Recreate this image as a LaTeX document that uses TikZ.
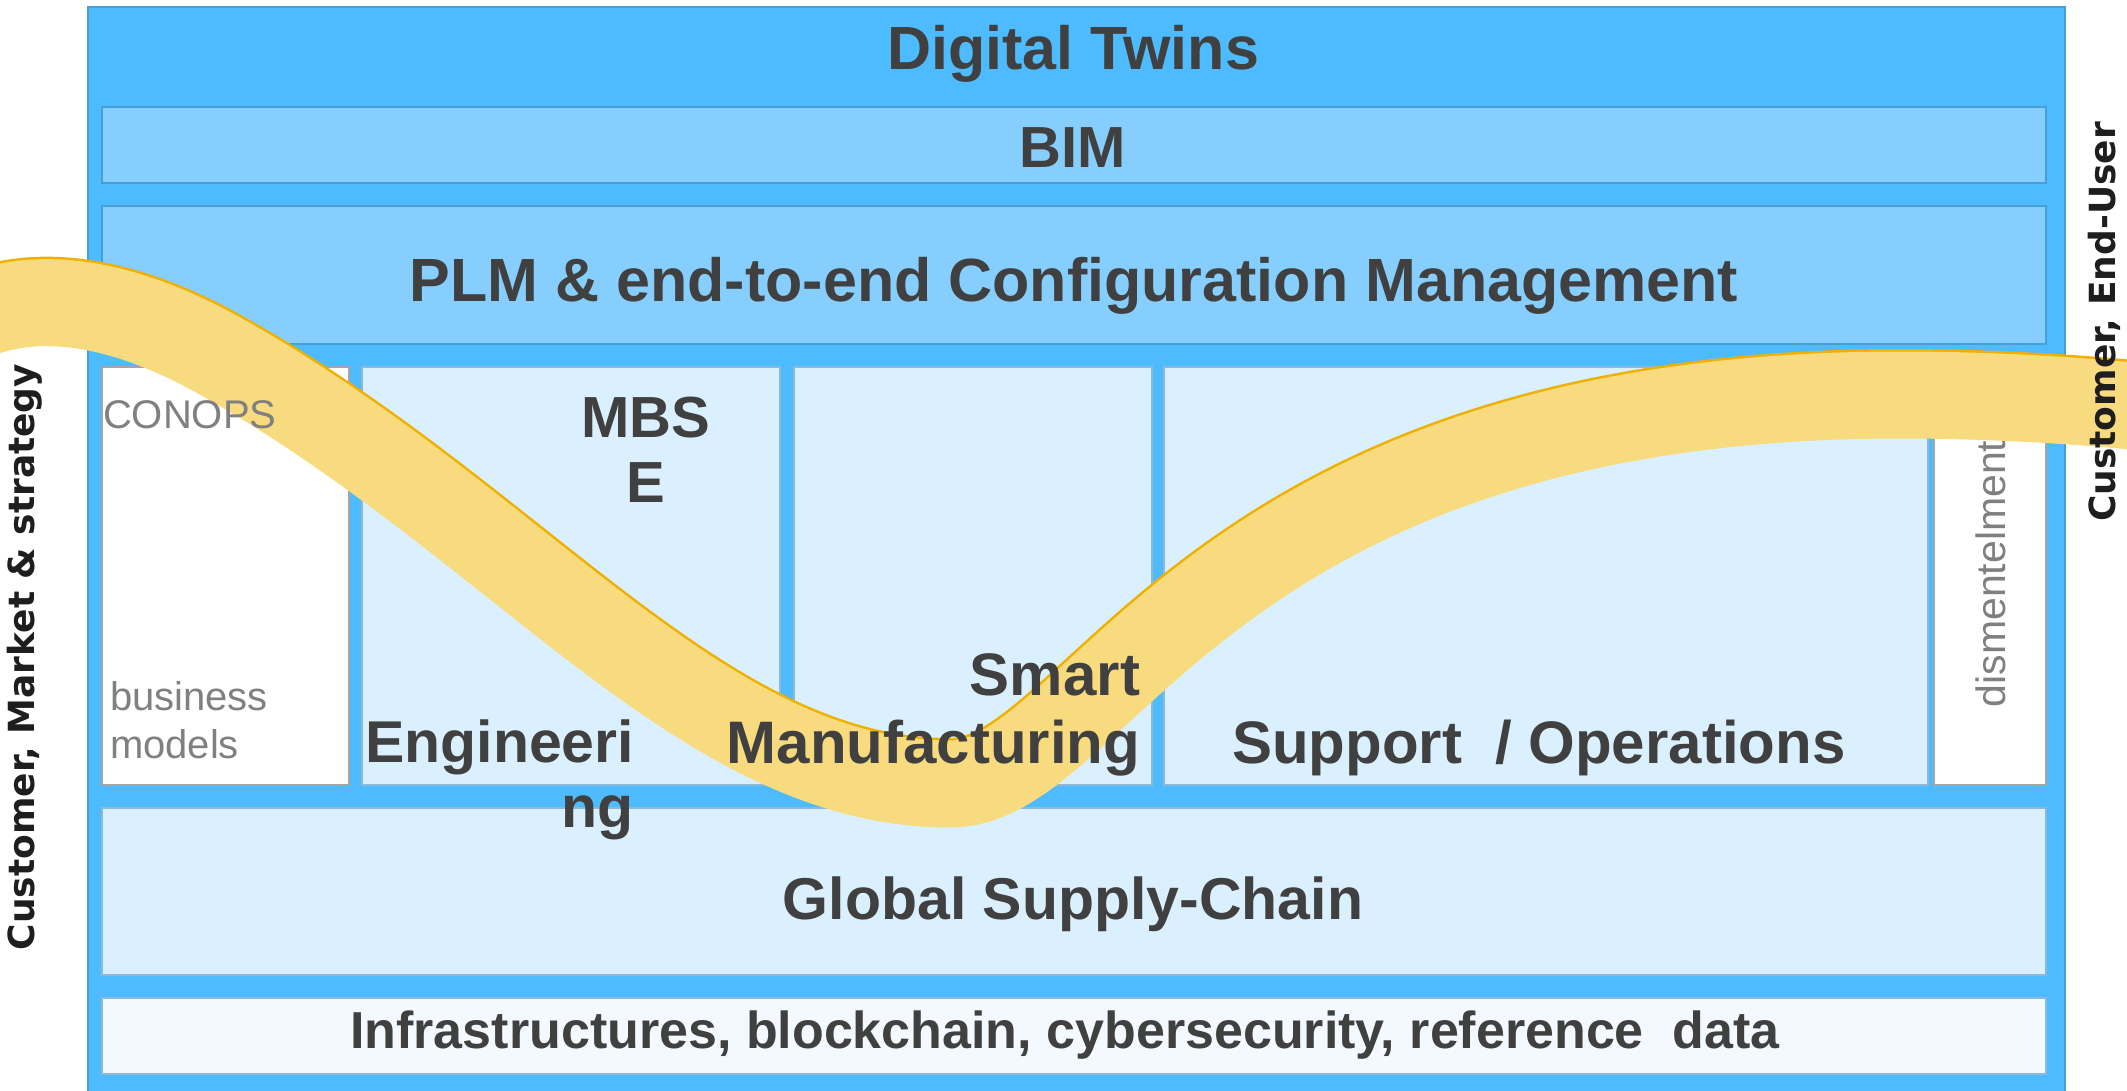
\documentclass[tikz,border=0pt]{standalone}
\usepackage{fontspec}
\setmainfont{Liberation Sans}
\newfontfamily\sidefont{DejaVu Sans}
\newcommand\setfs[1]{\fontsize{#1}{#1}\selectfont}
\definecolor{outblue}{RGB}{77,187,254}
\definecolor{midblue}{RGB}{133,206,253}
\definecolor{lightblue}{RGB}{219,240,254}
\definecolor{paleblue}{RGB}{243,249,255}
\definecolor{bordblue}{RGB}{74,158,214}
\definecolor{bordlight}{RGB}{140,185,215}
\definecolor{bordgray}{RGB}{165,165,165}
\definecolor{txtdark}{RGB}{64,64,64}
\definecolor{txtgray}{RGB}{128,128,128}
\definecolor{sidetxt}{RGB}{30,30,30}
\definecolor{bandfill}{RGB}{249,219,127}
\definecolor{bandedge}{RGB}{240,176,0}
\tikzset{
  panel/.style={anchor=north west, inner sep=0pt, outer sep=0pt, line width=1.5pt},
  outerpanel/.style={panel, draw=bordblue, fill=outblue},
  midpanel/.style={panel, draw=bordblue, fill=midblue},
  lightpanel/.style={panel, draw=bordlight, fill=lightblue},
  whitepanel/.style={panel, draw=bordgray, fill=white},
  palepanel/.style={panel, draw=bordlight, fill=paleblue},
  lbl/.style={inner sep=0pt, outer sep=0pt, text=txtdark, font=\bfseries},
  graylbl/.style={inner sep=0pt, outer sep=0pt, text=txtgray},
  sidelbl/.style={inner sep=0pt, outer sep=0pt, text=sidetxt, rotate=90, anchor=base, font=\sidefont\bfseries\setfs{36}},
  bandpath/.style={line cap=butt, line join=round},
}
\begin{document}
\begin{tikzpicture}[x=1pt,y=-1pt]
\useasboundingbox (0,0) rectangle (2127,1090);
\clip (0,0) rectangle (2127,1090);
% panels
\node[outerpanel, minimum width=1977pt, minimum height=1090pt] (outer) at (88,7) {};
\node[midpanel, minimum width=1944pt, minimum height=76pt] (bim) at (102,107) {};
\node[midpanel, minimum width=1944pt, minimum height=138pt] (plm) at (102,206) {};
\node[whitepanel, minimum width=247pt, minimum height=418pt] (conops) at (102,367) {};
\node[lightpanel, minimum width=418pt, minimum height=418pt] (eng) at (362,367) {};
\node[lightpanel, minimum width=358pt, minimum height=418pt] (manu) at (794,367) {};
\node[lightpanel, minimum width=764pt, minimum height=418pt] (supp) at (1164,367) {};
\node[whitepanel, minimum width=112pt, minimum height=418pt] (dism) at (1934,367) {};
\node[lightpanel, minimum width=1944pt, minimum height=167pt] (supply) at (102,808) {};
\node[palepanel, minimum width=1944pt, minimum height=76pt] (infra) at (102,998) {};
% yellow band: orange edge only on the upper side
\def\bandcurve{(-20,314) .. controls (40,292) and (120,300) .. (220,356)
  .. controls (520,524) and (700,784) .. (950,784)
  .. controls (1100,784) and (1200,395) .. (1900,395)
  .. controls (2000,395) and (2100,402) .. (2160,409)}
\begin{scope}
  \clip \bandcurve -- (2160,-100) -- (-20,-100) -- cycle;
  \draw[bandpath, bandedge, line width=92pt] \bandcurve;
\end{scope}
\draw[bandpath, bandfill, line width=87pt] \bandcurve;
% labels
\node[lbl, anchor=base, font=\bfseries\setfs{61}] (tdt) at (1073,69) {Digital Twins};
\node[lbl, anchor=base, font=\bfseries\setfs{58}] (tbim) at (1073,167) {BIM};
\node[lbl, anchor=base, font=\bfseries\setfs{61}] (tplm) at (1074,301) {PLM \& end-to-end Configuration Management};
\node[lbl, anchor=base, font=\bfseries\setfs{58}] (tmbs) at (646,437) {MBS};
\node[lbl, anchor=base, font=\bfseries\setfs{58}] (tmbse) at (646,502) {E};
\node[lbl, anchor=base east, font=\bfseries\setfs{59}] (teng) at (634,762) {Engineeri};
\node[lbl, anchor=base east, font=\bfseries\setfs{59}] (tengb) at (634,827) {ng};
\node[lbl, anchor=base east, font=\bfseries\setfs{60}] (tsmart) at (1140,695) {Smart};
\node[lbl, anchor=base east, font=\bfseries\setfs{60}] (tmanu) at (1140,763) {Manufacturing};
\node[lbl, anchor=base west, font=\bfseries\setfs{60}] (tsupp) at (1232,763) {Support\ \ / Operations};
\node[lbl, anchor=base, font=\bfseries\setfs{59}] (tsupply) at (1073,919) {Global Supply-Chain};
\node[lbl, anchor=base, font=\bfseries\setfs{52}] (tinfra) at (1065,1048) {Infrastructures, blockchain, cybersecurity, reference\ \ data};
\node[graylbl, anchor=base west, font=\setfs{40}] (tconops) at (103,428) {CONOPS};
\node[graylbl, anchor=base west, font=\setfs{40}] (tbus) at (110,710) {business};
\node[graylbl, anchor=base west, font=\setfs{40}] (tmod) at (110,758) {models};
\node[graylbl, rotate=90, anchor=base, font=\setfs{41}] (tdism) at (2005,574) {dismentelment};
\node[sidelbl] (tleft) at (34,657) {Customer, Market \& strategy};
\node[sidelbl] (tright) at (2115,322) {Customer, End-User};
\end{tikzpicture}
\end{document}
